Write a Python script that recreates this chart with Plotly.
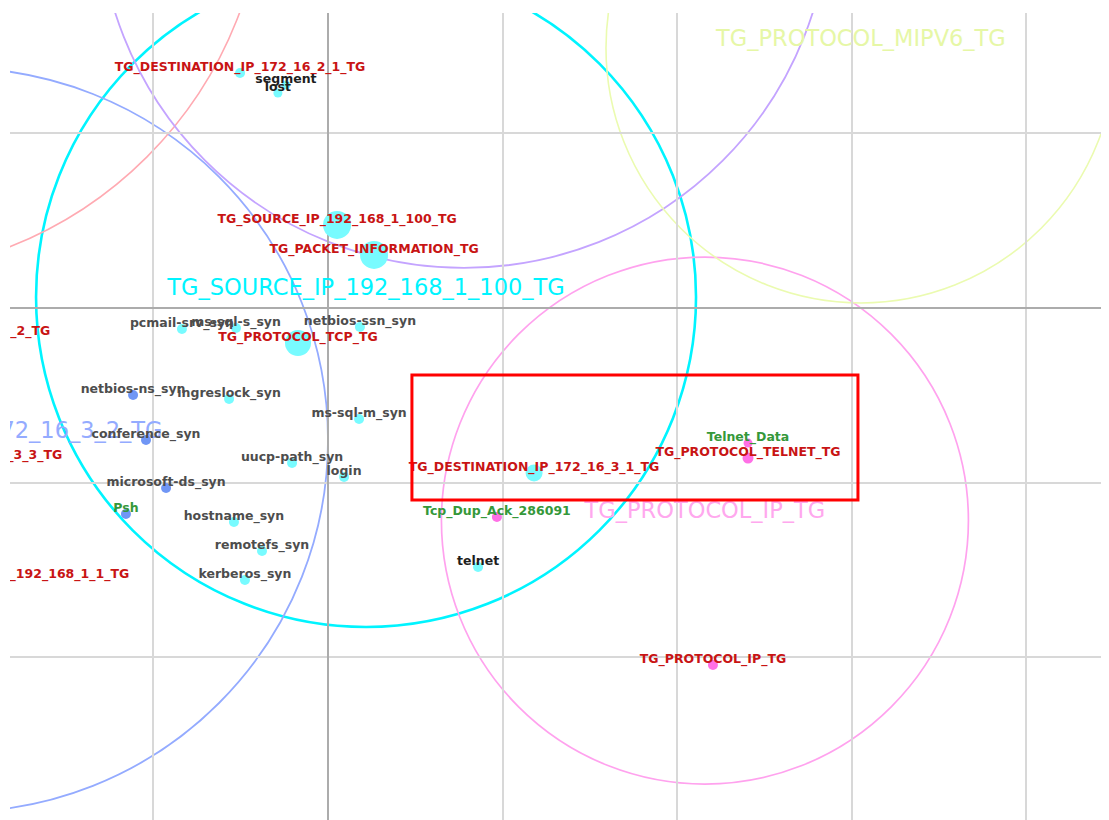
import plotly.graph_objects as go

# ---------------- data (axis units: one grid cell = 1) ----------------
node_names = [
    "TG_DESTINATION_IP_172_16_2_1_TG", "segment", "lost",
    "TG_SOURCE_IP_192_168_1_100_TG", "TG_PACKET_INFORMATION_TG",
    "pcmail-srv_syn", "ms-sql-s_syn", "netbios-ssn_syn", "TG_PROTOCOL_TCP_TG",
    "netbios-ns_syn", "ingreslock_syn", "ms-sql-m_syn", "conference_syn",
    "uucp-path_syn", "login", "microsoft-ds_syn", "Psh", "hostname_syn",
    "remotefs_syn", "kerberos_syn", "TG_DESTINATION_IP_172_16_3_1_TG",
    "Telnet_Data", "TG_PROTOCOL_TELNET_TG", "Tcp_Dup_Ack_286091", "telnet",
    "TG_PROTOCOL_IP_TG", "TG_DESTINATION_IP_172_16_3_2_TG",
    "TG_DESTINATION_IP_172_16_3_3_TG", "TG_DESTINATION_IP_192_168_1_1_TG",
]
node_x = [-0.504, -0.241, -0.287, 0.052, 0.264, -0.837, -0.527, 0.183, -0.172,
          -1.117, -0.567, 0.178, -1.043, -0.206, 0.092, -0.928, -1.158, -0.539,
          -0.378, -0.476, 1.181, 2.407, 2.407, 0.968, 0.860, 2.206, -2.309,
          -2.241, -1.882]
node_y = [1.347, 1.278, 1.232, 0.476, 0.304, -0.120, -0.115, -0.109, -0.201,
          -0.499, -0.521, -0.636, -0.756, -0.888, -0.968, -1.032, -1.181, -1.226,
          -1.393, -1.559, -0.946, -0.774, -0.860, -1.198, -1.484, -2.046, -0.166,
          -0.877, -1.559]
node_size = [10, 9, 9, 28, 28, 10, 10, 10, 26, 10, 10, 10, 10, 10, 10, 10, 10,
             10, 10, 10, 17, 9, 11, 10, 10, 10, 10, 10, 10]
node_kind = ["cyan", "cyan", "cyan", "cyan", "cyan", "cyan", "cyan", "cyan", "cyan",
             "blue", "cyan", "cyan", "blue", "cyan", "cyan", "blue", "blue", "cyan",
             "cyan", "cyan", "cyan", "magenta", "magenta", "magenta", "cyan",
             "magenta", "blue", "blue", "blue"]
label_kind = ["red", "dark", "dark", "red", "red", "gray", "gray", "gray", "red",
              "gray", "gray", "gray", "gray", "gray", "gray", "gray", "green", "gray",
              "gray", "gray", "red", "green", "red", "green", "dark", "red", "red",
              "red", "red"]

cluster_names = ["TG_SOURCE_IP_192_168_1_100_TG", "TG_DESTINATION_IP_172_16_3_2_TG",
                 "", "", "TG_PROTOCOL_IP_TG", "TG_PROTOCOL_MIPV6_TG"]
cluster_x = [0.218, -2.132, -2.670, 0.779, 2.160, 3.054]
cluster_y = [0.063, -0.756, 2.499, 2.327, -1.218, 1.490]
cluster_r = [1.891, 2.132, 2.309, 2.097, 1.510, 1.461]
cluster_color = ["#00f4ff", "#94abff", "#ffaab2", "#c4a4ff", "#ffa2ee", "#ebfbb0"]
cluster_label_color = ["#00f4ff", "#94abff", "#ffaab2", "#c4a4ff", "#ffa8ee", "#e6f7a6"]
cluster_width = [2.6, 1.8, 1.6, 1.8, 1.7, 1.6]

selection_box = {"x0": 0.481, "x1": 3.037, "y0": -1.100, "y1": -0.384}

x_range = [-1.8223, 4.4756]
y_range = [-2.9341, 1.6905]

# ---------------- styling ----------------
PX = 1 / 174.5  # axis units per pixel
dot_colors = {"cyan": "#78fbff", "blue": "#7096f5", "magenta": "#ff70e6"}
text_colors = {"red": "#c81414", "gray": "#4d4d4d", "dark": "#1e1e1e", "green": "#35983a"}

fig = go.Figure()

shapes = []
for cx, cy, r, c, w in zip(cluster_x, cluster_y, cluster_r, cluster_color, cluster_width):
    shapes.append(dict(type="circle", xref="x", yref="y",
                       x0=cx - r, x1=cx + r, y0=cy - r, y1=cy + r,
                       line=dict(color=c, width=w), layer="below"))
shapes.append(dict(type="rect", xref="x", yref="y",
                   x0=selection_box["x0"], x1=selection_box["x1"],
                   y0=selection_box["y0"], y1=selection_box["y1"],
                   line=dict(color="#ff0000", width=3), layer="above"))

# cluster labels
fig.add_trace(go.Scatter(
    x=cluster_x, y=[v + 8 * PX for v in cluster_y], mode="text",
    text=cluster_names, textposition="middle center",
    textfont=dict(family="DejaVu Sans", size=22.5, color=cluster_label_color),
    hoverinfo="skip", showlegend=False))

# node dots
fig.add_trace(go.Scatter(
    x=node_x, y=node_y, mode="markers",
    marker=dict(size=node_size, color=[dot_colors[k] for k in node_kind],
                line=dict(width=0), opacity=1),
    hoverinfo="skip", showlegend=False))

# node labels
fig.add_trace(go.Scatter(
    x=node_x, y=[v + 5 * PX for v in node_y], mode="text",
    text=node_names, textposition="middle center",
    textfont=dict(family="DejaVu Sans", size=12.5, weight="bold",
                  color=[text_colors[k] for k in label_kind]),
    hoverinfo="skip", showlegend=False))

axis_common = dict(showticklabels=False, ticks="", showline=False,
                   gridcolor="#d8d8d8", gridwidth=1.6, dtick=1, tick0=0,
                   zeroline=True, zerolinecolor="#acacac", zerolinewidth=1.6)
# the page body adds an 8px margin; the figure is sized so the plot area
# spans x 10..1109 and y 13..820 of the window
fig.update_layout(
    width=1101, height=812,
    margin=dict(l=2, r=0, t=5, b=0),
    paper_bgcolor="white", plot_bgcolor="white",
    shapes=shapes,
    xaxis=dict(range=x_range, **axis_common),
    yaxis=dict(range=y_range, **axis_common),
    showlegend=False,
)

fig.write_html("out.html", config={"displayModeBar": False})
